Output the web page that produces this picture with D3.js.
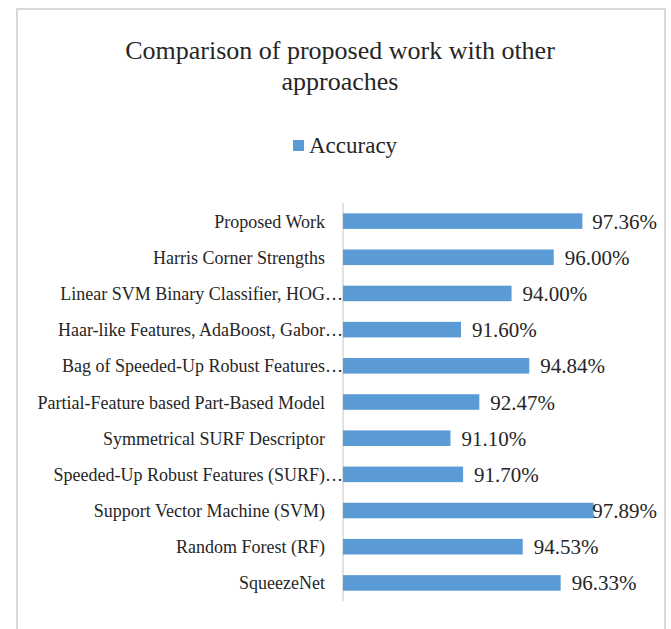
<!DOCTYPE html>
<html>
<head>
<meta charset="utf-8">
<script src="https://cdn.jsdelivr.net/npm/d3@7"></script>
<style>
  html, body { margin: 0; padding: 0; background: #ffffff; }
  svg { display: block; }
  text { font-family: "Liberation Serif", "Times New Roman", serif; }
</style>
</head>
<body>
<svg id="chart" width="671" height="629"></svg>
<script>
// Accuracy of each approach (top to bottom as listed)
const categories = [
  "Proposed Work",
  "Harris Corner Strengths",
  "Linear SVM Binary Classifier, HOG…",
  "Haar-like Features, AdaBoost, Gabor…",
  "Bag of Speeded-Up Robust Features…",
  "Partial-Feature based Part-Based Model",
  "Symmetrical SURF Descriptor",
  "Speeded-Up Robust Features (SURF)…",
  "Support Vector Machine (SVM)",
  "Random Forest (RF)",
  "SqueezeNet"
];
const accuracy = [97.36, 96.00, 94.00, 91.60, 94.84, 92.47, 91.10, 91.70, 97.89, 94.53, 96.33];
const valueLabels = ["97.36%", "96.00%", "94.00%", "91.60%", "94.84%", "92.47%", "91.10%", "91.70%", "97.89%", "94.53%", "96.33%"];
const axisDomain = [86, 100];
const seriesName = "Accuracy";
const titleLines = ["Comparison of proposed work with other", "approaches"];

const svg = d3.select("#chart");
const barColor = "#5b9bd5";
const textColor = "#262626";

// Chart frame
svg.append("rect")
  .attr("x", 17).attr("y", 9)
  .attr("width", 648).attr("height", 640)
  .attr("fill", "none")
  .attr("stroke", "#d9d9d9")
  .attr("stroke-width", 2);

// Title
svg.append("g").selectAll("text")
  .data(titleLines)
  .join("text")
  .attr("x", 340)
  .attr("y", (d, i) => 59 + i * 31)
  .attr("text-anchor", "middle")
  .attr("font-size", 26)
  .attr("fill", textColor)
  .text(d => d);

// Legend
const legend = svg.append("g");
legend.append("rect")
  .attr("x", 293).attr("y", 140)
  .attr("width", 11).attr("height", 11)
  .attr("fill", barColor);
legend.append("text")
  .attr("x", 309).attr("y", 153)
  .attr("font-size", 23)
  .attr("fill", textColor)
  .text(seriesName);

// Scales
const plotLeft = 343, plotRight = 638, plotTop = 203, plotBottom = 601;
const x = d3.scaleLinear().domain(axisDomain).range([plotLeft, plotRight]);
const y = d3.scaleBand().domain(categories).range([plotTop, plotBottom]).paddingInner(0.57).paddingOuter(0.285);

// Category axis (line only, labels drawn separately for overflow handling)
const yAxis = d3.axisLeft(y).tickSize(0).tickFormat("");
const axisG = svg.append("g").attr("transform", `translate(${plotLeft},0)`).call(yAxis);
axisG.select(".domain").attr("stroke", "#d9d9d9").attr("stroke-width", 1.5)
  .attr("d", `M0,${plotTop}V${plotBottom}`);

// Category labels
svg.append("g").selectAll("text")
  .data(categories)
  .join("text")
  .attr("x", d => d.endsWith("…") ? 343 : 325)
  .attr("y", d => y(d) + y.bandwidth() / 2 + 6.5)
  .attr("text-anchor", "end")
  .attr("font-size", 18)
  .attr("fill", textColor)
  .text(d => d);

// Bars
svg.append("g").selectAll("rect")
  .data(accuracy)
  .join("rect")
  .attr("x", x(axisDomain[0]))
  .attr("y", (d, i) => y(categories[i]))
  .attr("width", d => x(d) - x(axisDomain[0]))
  .attr("height", y.bandwidth())
  .attr("fill", barColor);

// Value labels, kept inside the chart area
const labelRight = 657;
svg.append("g").selectAll("text")
  .data(accuracy)
  .join("text")
  .attr("y", (d, i) => y(categories[i]) + y.bandwidth() / 2 + 7.5)
  .attr("font-size", 21)
  .attr("fill", textColor)
  .text((d, i) => valueLabels[i])
  .each(function(d) {
    const w = this.getComputedTextLength();
    const xs = Math.min(x(d) + 11, labelRight - w);
    d3.select(this).attr("x", xs);
  });
</script>
</body>
</html>
